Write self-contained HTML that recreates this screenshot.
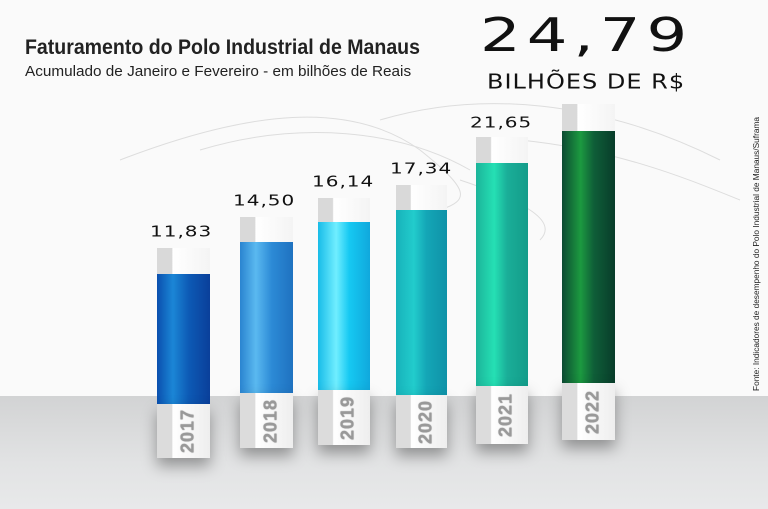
<!DOCTYPE html>
<html><head><meta charset="utf-8"><style>
body{margin:0;width:768px;height:509px;overflow:hidden;background:#fafafa;font-family:"Liberation Sans",sans-serif;position:relative}
.floor{position:absolute;left:0;top:396px;width:768px;height:113px;background:linear-gradient(#d2d3d4,#e2e3e4 60%,#e8e9ea)}
.bar{position:absolute}
.cap{position:absolute;left:0;right:0;top:0;background:linear-gradient(90deg,#d9d9d9 0,#d9d9d9 28%,#fff 30%,#f4f4f4)}
.col{position:absolute;left:0;right:0}
.base{position:absolute;left:0;right:0;background:linear-gradient(90deg,#dcdcdc 0,#dcdcdc 28%,#fff 30%,#eee);box-shadow:0 8px 14px rgba(0,0,0,.35)}
.yr{position:absolute;left:58%;font:bold 18px "Liberation Sans",sans-serif;color:#999;transform:translate(-50%,-50%) rotate(-90deg);letter-spacing:1px;text-shadow:0 0 1px #666}
.val{position:absolute;font:20px "DejaVu Sans",sans-serif;letter-spacing:1px;color:#111;transform:scaleY(.75)}
</style></head><body>
<svg style="position:absolute;left:0;top:0" width="768" height="400"><g fill="none" stroke="#ddd" stroke-width="1">
<path d="M120 160 C250 110 350 100 420 150 C470 190 470 200 440 210"/>
<path d="M200 150 C300 120 400 130 470 170"/>
<path d="M380 120 C480 90 600 100 720 160"/>
<path d="M520 140 C620 150 690 180 740 200"/>
<path d="M460 180 C520 200 560 220 540 240"/>
</g></svg>
<div class="floor"></div>
<div style="position:absolute;left:25px;top:36px;font-size:21px;font-weight:bold;color:#222;transform:scaleX(.93);transform-origin:left;white-space:nowrap">Faturamento do Polo Industrial de Manaus</div>
<div style="position:absolute;left:25px;top:63px;font-size:15px;color:#222;transform:scaleX(1.02);transform-origin:left;white-space:nowrap">Acumulado de Janeiro e Fevereiro - em bilhões de Reais</div>
<div style="position:absolute;left:480px;top:12px;font:64px 'DejaVu Sans',sans-serif;letter-spacing:6px;color:#111;transform:scaleY(.72);transform-origin:top;line-height:66px">24,79</div>
<div style="position:absolute;left:487px;top:70px;font:24px 'DejaVu Sans',sans-serif;letter-spacing:1px;color:#111;transform:scaleY(.85);transform-origin:top;white-space:nowrap">BILHÕES DE R$</div>
<div style="position:absolute;left:756px;top:254px;font-size:8.3px;color:#222;transform:translate(-50%,-50%) rotate(-90deg);white-space:nowrap">Fonte: Indicadores de desempenho do Polo Industrial de Manaus/Suframa</div>

<div class="val" style="left:150px;top:219px">11,83</div>
<div class="val" style="left:233px;top:188px">14,50</div>
<div class="val" style="left:312px;top:169px">16,14</div>
<div class="val" style="left:390px;top:156px">17,34</div>
<div class="val" style="left:470px;top:110px">21,65</div>

<div class="bar" style="left:157px;top:248px;width:53px;height:210px">
<div class="cap" style="height:26px"></div>
<div class="col" style="top:26px;height:130px;background:linear-gradient(90deg,#0a4fae,#1b86d6 30%,#0d5ab5 60%,#0a3f9a)"></div>
<div class="base" style="top:156px;bottom:0"><span class="yr" style="top:50%">2017</span></div></div>

<div class="bar" style="left:240px;top:217px;width:53px;height:231px">
<div class="cap" style="height:25px"></div>
<div class="col" style="top:25px;height:151px;background:linear-gradient(90deg,#2a84d0,#5ab9f0 30%,#2c8ad6 60%,#1f72c0)"></div>
<div class="base" style="top:176px;bottom:0"><span class="yr" style="top:50%">2018</span></div></div>

<div class="bar" style="left:318px;top:198px;width:52px;height:247px">
<div class="cap" style="height:24px"></div>
<div class="col" style="top:24px;height:168px;background:linear-gradient(90deg,#18bce8,#70eeff 35%,#16c9f2 60%,#10a8dc)"></div>
<div class="base" style="top:192px;bottom:0"><span class="yr" style="top:50%">2019</span></div></div>

<div class="bar" style="left:396px;top:185px;width:51px;height:263px">
<div class="cap" style="height:25px"></div>
<div class="col" style="top:25px;height:185px;background:linear-gradient(90deg,#17b2ba,#22cccc 35%,#14a6b6 60%,#0f92a8)"></div>
<div class="base" style="top:210px;bottom:0"><span class="yr" style="top:50%">2020</span></div></div>

<div class="bar" style="left:476px;top:137px;width:52px;height:307px">
<div class="cap" style="height:26px"></div>
<div class="col" style="top:26px;height:223px;background:linear-gradient(90deg,#1cb49a,#25e0b4 35%,#1aae98 60%,#139c8a)"></div>
<div class="base" style="top:249px;bottom:0"><span class="yr" style="top:50%">2021</span></div></div>

<div class="bar" style="left:562px;top:104px;width:53px;height:336px">
<div class="cap" style="height:27px"></div>
<div class="col" style="top:27px;height:252px;background:linear-gradient(90deg,#0c4a32,#1c9a40 35%,#0f5e38 60%,#083c2a)"></div>
<div class="base" style="top:279px;bottom:0"><span class="yr" style="top:50%">2022</span></div></div>
</body></html>
